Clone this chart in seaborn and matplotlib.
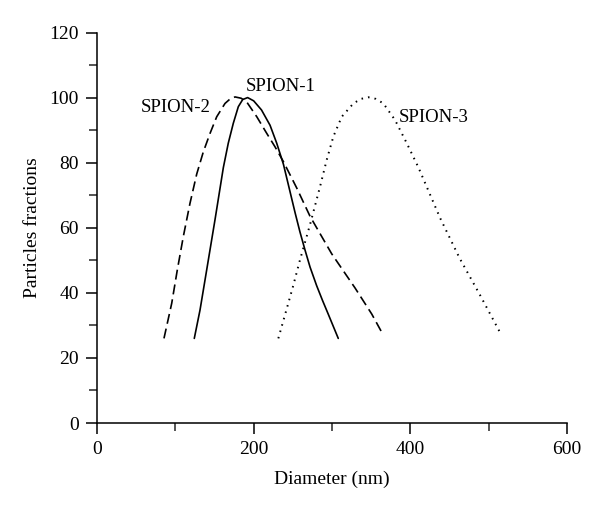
import matplotlib
matplotlib.use("Agg")
import matplotlib.pyplot as plt
import seaborn as sns
import pandas as pd
from matplotlib.ticker import MultipleLocator

# Data
spion1_x = [124.2, 131.5, 140, 150.6, 161.3, 167.6, 174, 180.4, 186, 192.3, 200, 210,
            220.9, 229.4, 238, 246, 253, 259, 265.5, 272, 280.4, 288, 295.3, 308]
spion1_y = [26, 34.7, 47, 62.4, 78.5, 86, 92.1, 97.2, 99.4, 100, 99, 96.2,
            91.5, 86, 79.5, 71.5, 64.5, 58.8, 53.2, 47.9, 42.2, 37.6, 33.4, 26]

spion2_x = [85.5, 95.4, 102.5, 110.2, 118.7, 127.3, 135.7, 144.3, 152.8, 163.4, 170, 176.2,
            184, 191, 204, 216.7, 227.2, 238, 255, 272, 299.6, 329.4, 350.7, 365.5]
spion2_y = [26, 36.8, 47, 57.3, 67.5, 76.5, 83.3, 89, 94.1, 98.2, 99.6, 100.2,
            99.8, 98.7, 94.1, 89, 84.9, 80.3, 72.2, 63.5, 52, 41.5, 33.5, 27]

spion3_x = [231.5, 244.2, 250.6, 259, 272, 284.7, 293.2, 301.7, 312.4, 327.3, 337, 346.4,
            356, 365.6, 380.5, 395.4, 410.2, 438, 463, 489, 515]
spion3_y = [26, 36.8, 42.3, 50, 61, 72.6, 80.8, 88, 94.1, 98.2, 99.6, 100.1,
            99.6, 98.2, 93.1, 86, 78.6, 63, 50.6, 39.3, 27.6]

labels = ["SPION-1", "SPION-2", "SPION-3"]
label_pos_x = [234, 101, 430]
label_pos_y = [103.3, 96.8, 94.0]

x_ticks = [0, 200, 400, 600]
y_ticks = [0, 20, 40, 60, 80, 100, 120]

sns.set_style("ticks")
plt.rcParams['font.family'] = ['Liberation Serif', 'DejaVu Serif']

df = pd.concat([
    pd.DataFrame({"x": spion1_x, "y": spion1_y, "s": labels[0]}),
    pd.DataFrame({"x": spion2_x, "y": spion2_y, "s": labels[1]}),
    pd.DataFrame({"x": spion3_x, "y": spion3_y, "s": labels[2]}),
])

fig = plt.figure(figsize=(6, 5.12), dpi=100)
ax = fig.add_axes([97/600, 1-423/512, 470/600, 390.5/512])

for name in labels:
    sub = df[df.s == name]
    sns.lineplot(data=sub, x="x", y="y", ax=ax, color="black", lw=1.2,
                 sort=False, estimator=None, legend=False)
lines = ax.get_lines()
lines[1].set_dashes((6, 3))
lines[2].set_dashes((0.8, 2.6))
lines[2].set_linewidth(1.4)
for ln in lines:
    ln.set_solid_joinstyle("round")
    ln.set_dash_joinstyle("round")

for t, lx, ly in zip(labels, label_pos_x, label_pos_y):
    ax.text(lx, ly, t, ha="center", va="center", fontsize=13.5, color="black")

ax.set_xlim(0, 600)
ax.set_ylim(0, 120)
ax.set_xticks(x_ticks)
ax.set_yticks(y_ticks)
ax.xaxis.set_minor_locator(MultipleLocator(100))
ax.yaxis.set_minor_locator(MultipleLocator(10))
ax.tick_params(axis='both', which='major', direction='out', length=8, width=1.1,
               labelsize=14, colors='black', pad=5)
ax.tick_params(axis='both', which='minor', direction='out', length=5.5, width=1.1)
for sp in ["top", "right"]:
    ax.spines[sp].set_visible(False)
for sp in ["left", "bottom"]:
    ax.spines[sp].set_linewidth(1.1)
    ax.spines[sp].set_color("black")

ax.set_xlabel("Diameter (nm)", fontsize=14, labelpad=9, color="black")
ax.set_ylabel("Particles fractions", fontsize=14, labelpad=6, color="black")

fig.savefig("out.png", dpi=100)
